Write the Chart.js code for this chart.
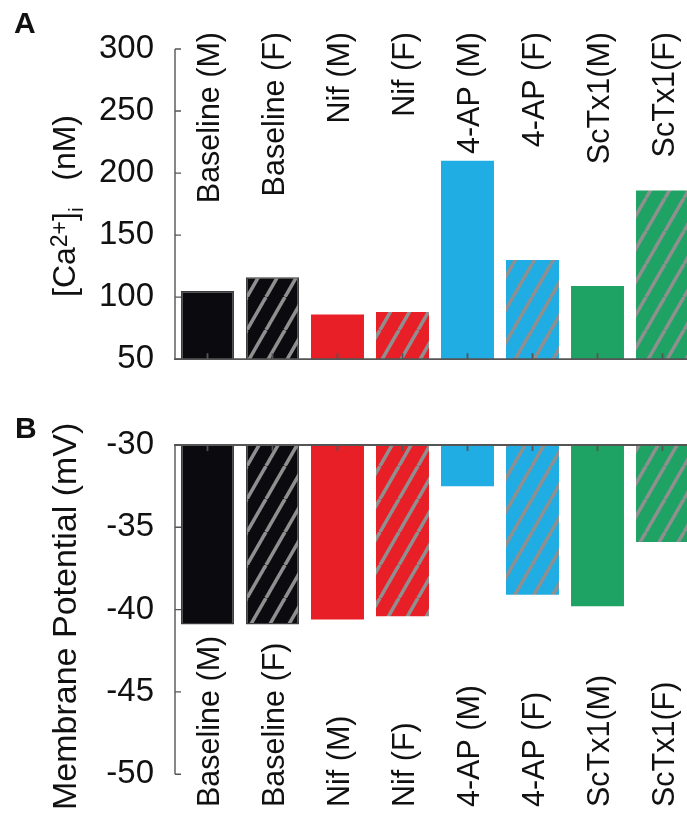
<!DOCTYPE html>
<html>
<head>
<meta charset="utf-8">
<script src="https://cdn.jsdelivr.net/npm/chart.js@4/dist/chart.umd.min.js"></script>
<style>
  html, body { margin: 0; padding: 0; background: #fff; overflow: hidden; width: 687px; height: 815px; }
  canvas { position: absolute; left: 0; }
  #calcium { top: 0; }
  #potential { top: 400px; }
</style>
</head>
<body>
<canvas id="calcium" width="700" height="400"></canvas>
<canvas id="potential" width="700" height="415"></canvas>
<script>
// Treatment groups (M = male, F = female)
const categories = ['Baseline (M)', 'Baseline (F)', 'Nif (M)', 'Nif (F)', '4-AP (M)', '4-AP (F)', 'ScTx1(M)', 'ScTx1(F)'];
// Panel A: intracellular calcium, nM
const calciumValues = [105, 116, 86, 88, 210, 130, 109, 186];
// Panel B: resting membrane potential, mV
const potentialValues = [-40.9, -40.9, -40.6, -40.4, -32.5, -39.1, -39.8, -35.9];
const calciumTicks = [50, 100, 150, 200, 250, 300];
const potentialTicks = [-50, -45, -40, -35, -30];
const groupColors = ['#0b0b0f', '#0b0b0f', '#e81f27', '#e81f27', '#1fade3', '#1fade3', '#1fa364', '#1fa364'];
const femaleGroup = [false, true, false, true, false, true, false, true];

const FONT = '"Liberation Sans", Arial, Helvetica, sans-serif';
const AXIS = '#555555';
const TEXT = '#111111';

// Diagonal grey stripes over a solid fill for the female groups
function stripeFill(color) {
  const w = 19, h = 33;
  const tile = document.createElement('canvas');
  tile.width = w; tile.height = h;
  const t = tile.getContext('2d');
  t.fillStyle = color;
  t.fillRect(0, 0, w, h);
  t.strokeStyle = '#8f8f8f';
  t.lineWidth = 3.6;
  for (let k = -1; k <= 1; k++) {
    t.beginPath();
    t.moveTo(k * w, h);
    t.lineTo(k * w + w, 0);
    t.stroke();
  }
  return t.createPattern(tile, 'repeat');
}

function barStyle() {
  return {
    backgroundColor: groupColors.map((c, i) => femaleGroup[i] ? stripeFill(c) : c),
    borderColor: groupColors.map((c, i) => i < 2 ? '#3c3c3c' : 'rgba(0,0,0,0)'),
    borderWidth: groupColors.map((c, i) => i < 2 ? 1.5 : 0)
  };
}

// Draw text rotated a quarter turn (reading bottom to top) made of styled runs
function drawUpright(ctx, x, y, runs) {
  ctx.save();
  ctx.translate(x, y);
  ctx.rotate(-Math.PI / 2);
  ctx.textAlign = 'left';
  ctx.textBaseline = 'alphabetic';
  ctx.fillStyle = TEXT;
  let cursor = 0;
  for (const r of runs) {
    ctx.font = r.size + 'px ' + FONT;
    ctx.fillText(r.text, cursor, r.shift || 0);
    cursor += ctx.measureText(r.text).width;
  }
  ctx.restore();
}

// Axes, inward ticks, rotated group names, axis title and panel letter
function panelDecor(cfg) {
  return {
    id: 'panelDecor',
    afterDatasetsDraw(chart) {
      const { ctx, chartArea: a, scales: { x, y } } = chart;
      const yTop = y.getPixelForValue(y.max);
      const yBottom = y.getPixelForValue(y.min);
      const axisY = cfg.side === 'top' ? yTop : yBottom;
      ctx.save();
      ctx.strokeStyle = AXIS;
      ctx.lineCap = 'butt';

      ctx.lineWidth = 1.4;
      ctx.beginPath();
      ctx.moveTo(a.left, yTop);
      ctx.lineTo(a.left, yBottom);
      y.ticks.forEach(t => {
        const py = y.getPixelForValue(t.value);
        ctx.moveTo(a.left, py);
        ctx.lineTo(a.left + 6, py);
      });
      ctx.stroke();

      ctx.lineWidth = 1.8;
      ctx.beginPath();
      ctx.moveTo(a.left - 1, axisY);
      ctx.lineTo(chart.width, axisY);
      const dir = cfg.side === 'top' ? 1 : -1;
      categories.forEach((c, i) => {
        const px = x.getPixelForValue(i);
        ctx.moveTo(px, axisY);
        ctx.lineTo(px, axisY + dir * 6);
      });
      ctx.stroke();

      ctx.fillStyle = TEXT;
      ctx.font = '30.5px ' + FONT;
      ctx.textBaseline = 'alphabetic';
      categories.forEach((c, i) => {
        const px = x.getPixelForValue(i) + 11;
        ctx.save();
        ctx.translate(px, cfg.labelAnchor);
        ctx.rotate(-Math.PI / 2);
        ctx.textAlign = cfg.side === 'top' ? 'left' : 'right';
        ctx.fillText(c, 0, 0);
        ctx.restore();
      });

      drawUpright(ctx, cfg.titleX, cfg.titleY, cfg.title);
      ctx.fillStyle = TEXT;
      ctx.font = 'bold 30px ' + FONT;
      ctx.textAlign = 'left';
      ctx.textBaseline = 'alphabetic';
      ctx.fillText(cfg.letter, cfg.letterX, cfg.letterY);
      ctx.restore();
    }
  };
}

function makeChart(id, values, tickValues, padding, decor) {
  return new Chart(document.getElementById(id), {
    type: 'bar',
    data: {
      labels: categories,
      datasets: [Object.assign({ data: values, barPercentage: 0.815, categoryPercentage: 1 }, barStyle())]
    },
    options: {
      responsive: false,
      animation: false,
      devicePixelRatio: 1,
      layout: { padding: padding },
      plugins: { legend: { display: false }, tooltip: { enabled: false } },
      scales: {
        x: { display: false, offset: true },
        y: {
          min: tickValues[0],
          max: tickValues[tickValues.length - 1],
          afterBuildTicks: s => { s.ticks = tickValues.map(v => ({ value: v })); },
          afterFit: s => { s.width = 175; },
          grid: { display: false, drawTicks: false },
          border: { display: false },
          ticks: { padding: 21, color: TEXT, font: { family: FONT, size: 33 } }
        }
      }
    },
    plugins: [panelDecor(decor)]
  });
}

makeChart('calcium', calciumValues, calciumTicks,
  { top: 49, bottom: 16, left: 0, right: 5 },
  {
    side: 'bottom', labelAnchor: 32, letter: 'A', letterX: 14, letterY: 33,
    titleX: 75, titleY: 297,
    title: [
      { text: '[Ca', size: 32 },
      { text: '2+', size: 23, shift: -8 },
      { text: ']', size: 32 },
      { text: 'i', size: 21, shift: 8 },
      { text: '   (nM)', size: 32 }
    ]
  });

makeChart('potential', potentialValues, potentialTicks,
  { top: 45, bottom: 37, left: 0, right: 5 },
  {
    side: 'top', labelAnchor: 407, letter: 'B', letterX: 15, letterY: 38,
    titleX: 76, titleY: 410,
    title: [{ text: 'Membrane Potential (mV)', size: 34 }]
  });
</script>
</body>
</html>
